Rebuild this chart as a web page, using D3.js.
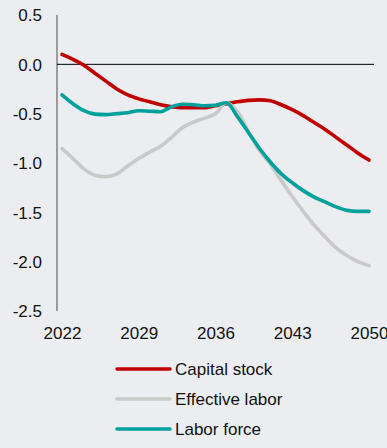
<!DOCTYPE html>
<html>
<head>
<meta charset="utf-8">
<title>Capital stock / Effective labor / Labor force</title>
<style type="text/css">
    body{margin:0;background:#ebedf0;}
    svg{display:block;font-family:"Liberation Sans",Arial,sans-serif;}
    .tick text{font-size:17px;fill:#111;}
    .axis--y path,.axis--y line,.axis--x path,.axis--x line{display:none;}
    .line{fill:none;stroke-width:3.6px;stroke-linejoin:round;stroke-linecap:round;}
    .legend text{font-size:17px;fill:#111;}
</style>
</head>
<body>
<svg width="387" height="448"></svg>
<script src="https://d3js.org/d3.v7.min.js"></script>
<script>
// years 2022..2050
var years = [2022,2023,2024,2025,2026,2027,2028,2029,2030,2031,2032,2033,2034,2035,2036,
             2037,2038,2039,2040,2041,2042,2043,2044,2045,2046,2047,2048,2049,2050];
var capitalStock = [0.10,0.05,-0.01,-0.09,-0.17,-0.25,-0.31,-0.35,-0.38,-0.41,-0.43,-0.44,-0.44,-0.44,-0.42,
                    -0.40,-0.38,-0.365,-0.36,-0.37,-0.41,-0.46,-0.52,-0.59,-0.66,-0.74,-0.82,-0.90,-0.97];
var effectiveLabor = [-0.855,-0.955,-1.06,-1.125,-1.14,-1.11,-1.03,-0.955,-0.89,-0.83,-0.74,-0.64,-0.585,-0.545,-0.50,
                      -0.39,-0.48,-0.68,-0.87,-1.01,-1.18,-1.34,-1.49,-1.63,-1.75,-1.86,-1.94,-2.00,-2.04];
var laborForce = [-0.31,-0.40,-0.47,-0.505,-0.51,-0.50,-0.49,-0.47,-0.475,-0.48,-0.43,-0.405,-0.41,-0.42,-0.415,
                  -0.39,-0.53,-0.69,-0.85,-0.99,-1.11,-1.20,-1.28,-1.345,-1.395,-1.445,-1.48,-1.49,-1.49];
var seriesNames = ["Capital stock","Effective labor","Labor force"];
var seriesColors = ["#c00000","#c9c9c9","#00a09c"];
var xTicks = [2022,2029,2036,2043,2050];
var yTicks = [0.5,0,-0.5,-1,-1.5,-2,-2.5];

var svg = d3.select("svg");

var xScale = d3.scaleLinear().domain([2022,2050]).range([62,369]),
    yScale = d3.scaleLinear().domain([-2.5,0.5]).range([311,15]);

// plain hyphen for negatives, like the original
function formatY(d){ return d.toFixed(1); }

// y axis labels
svg.append("g").attr("class","axis--y")
    .attr("transform","translate(57,0)")
    .call(d3.axisLeft(yScale).tickValues(yTicks).tickFormat(formatY).tickSize(0).tickPadding(15))
    .selectAll("text").attr("dy","0.35em");

// x axis labels
svg.append("g").attr("class","axis--x")
    .attr("transform","translate(0,"+yScale(-2.5)+")")
    .call(d3.axisBottom(xScale).tickValues(xTicks).tickFormat(d3.format("d")).tickSize(0).tickPadding(16));

// vertical axis line
svg.append("line")
    .attr("x1",57).attr("x2",57)
    .attr("y1",yScale(0.5)).attr("y2",yScale(-2.5))
    .style("stroke","#7f7f7f").style("stroke-width","1.5px");

// zero line
svg.append("line")
    .attr("x1",57).attr("x2",374)
    .attr("y1",yScale(0)).attr("y2",yScale(0))
    .style("stroke","#000").style("stroke-width","1px");

var line = d3.line()
    .x(function(d){ return xScale(d[0]); })
    .y(function(d){ return yScale(d[1]); })
    .curve(d3.curveMonotoneX);

var allSeries = [capitalStock,effectiveLabor,laborForce];
allSeries.forEach(function(vals,i){
    svg.append("path")
        .datum(years.map(function(y,j){ return [y,vals[j]]; }))
        .attr("class","line")
        .attr("d",line)
        .style("stroke",seriesColors[i]);
});

// legend
var legend = svg.append("g").attr("class","legend");
seriesNames.forEach(function(name,i){
    var ly = 369 + i*30;
    legend.append("line")
        .attr("x1",117).attr("x2",170).attr("y1",ly).attr("y2",ly)
        .style("stroke",seriesColors[i]).style("stroke-width","3.5px").style("stroke-linecap","round");
    legend.append("text")
        .attr("x",175).attr("y",ly).attr("dy","0.35em")
        .text(name);
});
</script>
</body>
</html>
